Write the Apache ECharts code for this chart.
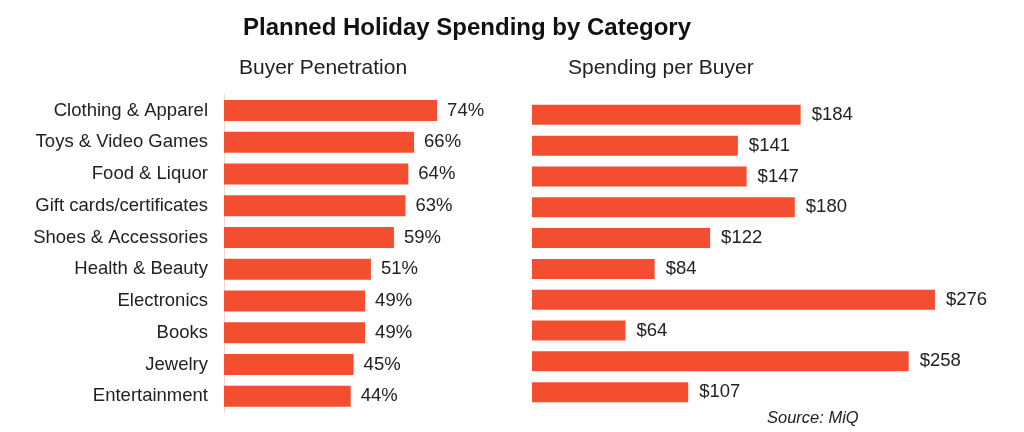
<!DOCTYPE html>
<html><head><meta charset="utf-8">
<script src="https://cdn.jsdelivr.net/npm/echarts@6/dist/echarts.min.js"></script>
<style>html,body{margin:0;padding:0;background:#fff}#c{width:1024px;height:432px}</style>
</head><body><div id="c"></div>
<script>
const categories = ["Clothing & Apparel","Toys & Video Games","Food & Liquor","Gift cards/certificates","Shoes & Accessories","Health & Beauty","Electronics","Books","Jewelry","Entertainment"];
const penetration = [74,66,64,63,59,51,49,49,45,44];
const spending = [184,141,147,180,122,84,276,64,258,107];

const barColor = '#F34E2F';
const font = '"Liberation Sans", Arial, sans-serif';
const chart = echarts.init(document.getElementById('c'));
chart.setOption({
  backgroundColor: '#fff',
  animation: false,
  textStyle: {fontFamily: font},
  title: [
    {text: 'Planned Holiday Spending by Category', left: 467, textAlign: 'center', top: 16.5, padding: 0,
     textStyle: {fontFamily: font, fontSize: 24, fontWeight: 'bold', color: '#111'}},
    {text: 'Buyer Penetration', left: 239, top: 57.5, padding: 0,
     textStyle: {fontFamily: font, fontSize: 21, fontWeight: 'normal', color: '#222'}},
    {text: 'Spending per Buyer', left: 568, top: 57.5, padding: 0,
     textStyle: {fontFamily: font, fontSize: 21, fontWeight: 'normal', color: '#222'}},
    {text: 'Source: MiQ', left: 767, top: 410, padding: 0,
     textStyle: {fontFamily: font, fontSize: 16.5, fontWeight: 'normal', fontStyle: 'italic', color: '#222'}}
  ],
  grid: [
    {left: 224, width: 288, top: 94.6, height: 317.6, containLabel: false},
    {left: 532, width: 438, top: 99.4, height: 308.2, containLabel: false}
  ],
  xAxis: [
    {gridIndex: 0, type: 'value', min: 0, max: 100, show: false},
    {gridIndex: 1, type: 'value', min: 0, max: 300, show: false}
  ],
  yAxis: [
    {gridIndex: 0, type: 'category', data: categories, inverse: true,
     axisLine: {show: true, lineStyle: {color: '#f5d3cb', width: 1}},
     axisTick: {show: false},
     axisLabel: {fontFamily: font, fontSize: 18.5, color: '#222', margin: 16}},
    {gridIndex: 1, type: 'category', data: categories, inverse: true, show: false}
  ],
  series: [
    {type: 'bar', xAxisIndex: 0, yAxisIndex: 0, data: penetration, barWidth: 21,
     itemStyle: {color: barColor},
     label: {show: true, position: 'right', distance: 10, formatter: '{c}%',
             fontFamily: font, fontSize: 18.5, color: '#222'}},
    {type: 'bar', xAxisIndex: 1, yAxisIndex: 1, data: spending, barWidth: 20,
     itemStyle: {color: barColor},
     label: {show: true, position: 'right', distance: 11, formatter: '${c}',
             fontFamily: font, fontSize: 18.5, color: '#222'}}
  ]
});
</script></body></html>
